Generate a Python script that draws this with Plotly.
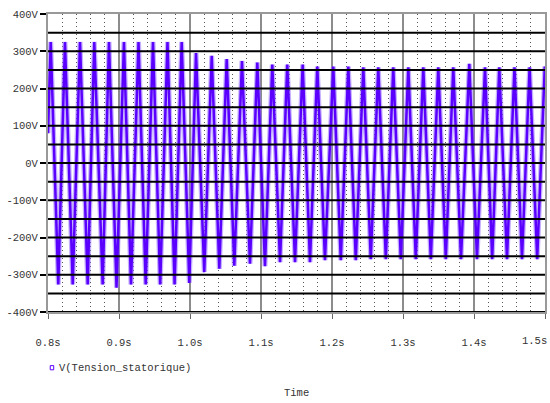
import plotly.graph_objects as go

# ---- data ----
peak_t = [0.8038, 0.8239, 0.8451, 0.8652, 0.8859, 0.9070, 0.9275, 0.9479, 0.9683, 0.9883,
          1.0085, 1.0306, 1.0517, 1.0732, 1.0948, 1.1159, 1.1370, 1.1587, 1.1793, 1.2018,
          1.2230, 1.2441, 1.2652, 1.2863, 1.3075, 1.3286, 1.3497, 1.3708, 1.3934, 1.4155,
          1.4356, 1.4570, 1.4783, 1.4997]
peak_v = [325, 325, 325, 325, 325, 325, 325, 325, 325, 325,
          295, 288, 279, 274, 270, 264, 264, 264, 259, 259,
          259, 257, 257, 257, 257, 257, 257, 257, 266, 257,
          257, 257, 257, 259]
trough_t = [0.8145, 0.8348, 0.8559, 0.8770, 0.8965, 0.9169, 0.9376, 0.9580, 0.9783, 0.9990,
            1.0201, 1.0413, 1.0624, 1.0845, 1.1056, 1.1268, 1.1479, 1.1690, 1.1901, 1.2124,
            1.2335, 1.2546, 1.2758, 1.2969, 1.3180, 1.3392, 1.3603, 1.3817, 1.4042, 1.4256,
            1.4465, 1.4676, 1.4890]
trough_v = [-326, -326, -326, -326, -335, -326, -326, -326, -326, -322,
            -293, -284, -276, -270, -277, -266, -266, -266, -261, -261,
            -261, -258, -258, -258, -258, -258, -258, -258, -258, -258,
            -258, -258, -258]
start_t, start_v = 0.8, 80
end_t, end_v = 1.5, 255

x_ticks = [0.8, 0.9, 1.0, 1.1, 1.2, 1.3, 1.4, 1.5]
x_labels = ["0.8s", "0.9s", "1.0s", "1.1s", "1.2s", "1.3s", "1.4s", "1.5s"]
y_ticks = [400, 300, 200, 100, 0, -100, -200, -300, -400]
y_labels = ["400V", "300V", "200V", "100V", "0V", "-100V", "-200V", "-300V", "-400V"]
h_lines = [350, 300, 250, 200, 150, 100, 50, 0, -50, -100, -150, -200, -250, -300, -350, -400]
series_name = "V(Tension_statorique)"
x_title = "Time"

# build alternating extrema sequence
t_all = [start_t]
v_all = [start_v]
for i in range(len(peak_t)):
    t_all.append(peak_t[i]); v_all.append(peak_v[i])
    if i < len(trough_t):
        t_all.append(trough_t[i]); v_all.append(trough_v[i])
t_all.append(end_t); v_all.append(end_v)

# dotted minor grid positions (every 0.02 s, skipping the major ones)
minor_x = []
for k in range(36):
    xv = round(0.8 + 0.02 * k, 4)
    if k % 5 != 0:
        minor_x.append(xv)

# last tick label is drawn as an annotation pinned to the right edge
axis_labels = x_labels[:-1] + [""]

FONT = "Liberation Mono"
PURPLE = "#5a00ff"
TXT = "#333333"

fig = go.Figure()
fig.add_trace(go.Scatter(x=t_all, y=v_all, mode="lines",
                         line=dict(color="rgba(150,110,255,0.55)", width=5),
                         hoverinfo="skip", showlegend=False))
fig.add_trace(go.Scatter(x=t_all, y=v_all, mode="lines",
                         line=dict(color=PURPLE, width=2.5),
                         name=series_name, showlegend=False))

shapes = []
for lv in h_lines:
    shapes.append(dict(type="line", xref="paper", x0=0, x1=1, yref="y", y0=lv, y1=lv,
                       line=dict(color="black", width=2), layer="above"))

# legend square
shapes.append(dict(type="rect", xref="paper", yref="paper",
                   x0=0.0045, x1=0.0115, y0=-0.194, y1=-0.180,
                   line=dict(color=PURPLE, width=1), fillcolor="white"))

fig.update_layout(
    width=550, height=403,
    margin=dict(l=48, r=5, t=14, b=91, autoexpand=False),
    paper_bgcolor="white", plot_bgcolor="white",
    font=dict(family=FONT, size=10.5, color=TXT),
    showlegend=False,
    shapes=shapes,
    annotations=[
        dict(text=series_name, xref="paper", yref="paper", x=0.018, y=-0.187,
             xanchor="left", yanchor="middle", showarrow=False,
             font=dict(family=FONT, size=10.5, color=TXT)),
        dict(text=x_title, xref="paper", yref="paper", x=0.501, y=-0.272,
             xanchor="center", yanchor="middle", showarrow=False,
             font=dict(family=FONT, size=10.5, color=TXT)),
        dict(text=x_labels[-1], xref="paper", yref="paper", x=1.008, y=-0.097,
             xanchor="right", yanchor="middle", showarrow=False,
             font=dict(family=FONT, size=10.5, color=TXT)),
    ],
)
fig.update_xaxes(
    range=[0.8, 1.5], tickmode="array", tickvals=x_ticks, ticktext=axis_labels,
    showgrid=True, gridcolor="#8c8c8c", gridwidth=2,
    minor=dict(tickmode="array", tickvals=minor_x, showgrid=True, gridcolor="#555555",
               gridwidth=1, griddash="1px,3px", ticks=""),
    ticks="outside", ticklen=5, tickcolor="#666666", tickwidth=1,
    ticklabelstandoff=14, automargin=False,
    showline=True, linecolor="#999999", linewidth=2, mirror=True,
    zeroline=False,
)
fig.update_yaxes(
    range=[-400, 400], tickmode="array", tickvals=y_ticks, ticktext=y_labels,
    showgrid=False, zeroline=False, automargin=False,
    ticks="outside", ticklen=6, tickcolor="black", tickwidth=2,
    showline=True, linecolor="#999999", linewidth=2, mirror=True,
)

fig.write_html("out.html",
               config={"displayModeBar": False},
               post_script="document.body.style.margin='0';document.body.style.padding='0';")
